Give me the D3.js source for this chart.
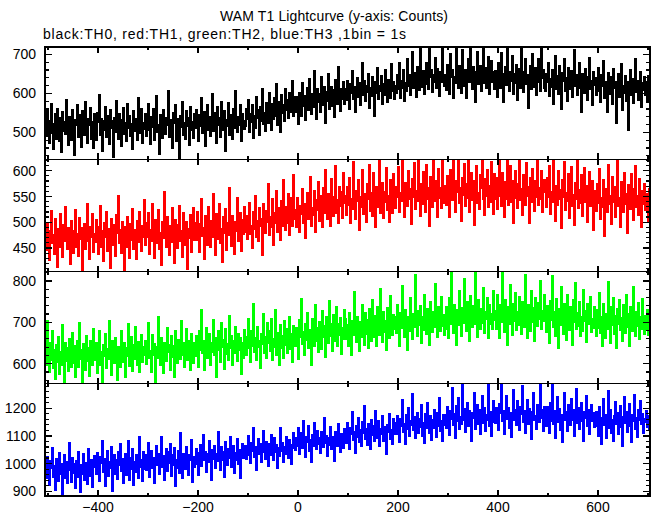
<!DOCTYPE html>
<html><head><meta charset="utf-8">
<script src="https://cdn.jsdelivr.net/npm/d3@7"></script>
<style>body{margin:0;background:#fff}svg{display:block}text{font-family:"Liberation Sans",Arial,Helvetica,sans-serif;fill:#000}</style>
</head><body><svg id="c" width="652" height="515"></svg>
<script>
// time axis: bin start (s) and bin width of the stored series
const binStart = -506, binWidth = 2;
const titleText = "WAM T1 Lightcurve (y-axis: Counts)";
const subtitleText = "black:TH0, red:TH1, green:TH2, blue:TH3 ,1bin = 1s";
const xTicksMajor = [-400, -200, 0, 200, 400, 600];
const xTicksMinor = [-500, -300, -100, 100, 300, 500, 700];

const th0 = [
538,489,556,507,472,531,574,498,455,522,549,483,561,515,476,537,449,552,503,528,
494,583,512,466,541,524,480,559,499,440,533,517,570,486,545,506,462,556,521,492,
579,502,471,536,519,563,481,527,458,547,
511,480,551,525,598,491,535,450,529,506,566,487,521,544,470,558,509,531,437,538,
499,582,520,483,549,514,463,533,563,495,526,477,575,510,542,489,522,455,557,503,
536,518,479,590,498,530,561,471,524,507,
548,489,527,573,505,469,541,513,562,480,530,595,501,520,444,546,510,484,559,528,
495,537,517,607,487,532,506,460,551,522,570,477,535,502,428,543,513,580,492,524,
481,556,516,537,466,565,506,528,485,548,
509,559,527,478,546,515,588,498,533,552,463,525,571,506,540,490,521,599,502,550,
530,472,565,518,537,487,580,522,505,556,452,532,515,576,493,545,524,481,562,511,
606,527,499,541,519,570,476,549,529,508,
516,561,532,584,499,548,526,572,485,543,511,593,536,558,492,567,529,612,520,551,
503,576,539,524,603,553,506,574,533,589,542,626,518,578,557,499,598,548,571,527,
612,557,583,535,601,550,572,634,541,592,
550,592,561,521,603,574,541,627,567,594,530,584,615,557,638,578,545,599,564,659,
585,533,612,577,600,551,642,586,568,617,524,605,579,650,558,593,618,566,609,539,
635,589,572,668,598,555,612,584,629,571,
612,581,634,598,560,624,600,659,584,618,550,606,641,589,627,569,611,680,596,633,
580,619,603,651,562,614,592,642,609,540,629,601,667,584,620,606,646,571,625,596,
660,611,578,635,614,588,676,605,629,585,
620,599,648,611,679,588,633,614,661,580,628,604,690,619,647,596,636,707,613,653,
624,590,668,630,608,714,638,616,659,598,644,678,623,609,719,641,660,603,649,627,
692,613,664,634,593,656,628,735,640,617,
647,608,675,631,598,702,640,660,586,644,625,725,633,612,672,651,599,713,641,619,
662,587,652,690,628,748,642,610,669,632,576,655,706,622,648,671,604,640,731,626,
666,614,647,694,598,637,683,629,655,611,
658,624,589,680,641,612,705,651,577,637,669,620,742,643,606,657,630,697,598,652,
626,675,583,639,663,613,718,635,602,656,688,622,648,562,638,672,609,703,642,616,
666,594,647,690,629,606,721,639,660,614,
606,650,628,679,591,639,615,661,573,633,698,609,645,598,672,624,560,654,631,690,
604,640,579,666,627,611,658,589,637,712,619,648,596,630,680,612,552,651,634,600,
664,622,583,643,692,609,632,568,657,620,
640,594,627,667,605,576,647,617,684,586,629,606,550,654,622,597,643,572,663,612,
631,522,609,651,589,625,676,556,620,600,645,580,629,505,613,662,595,637,574,622,
690,603,633,583,616,655,565,627,607,644,
596,630,578,646,612];

const th1 = [
491,446,500,472,425,484,522,458,476,437,508,469,413,487,451,516,473,432,496,463,
531,479,447,490,456,418,503,470,440,483,524,452,477,434,509,467,489,404,475,498,
448,485,536,462,428,492,471,517,442,478,
460,505,473,437,492,533,452,483,424,499,470,521,444,488,463,411,507,475,456,495,
433,514,478,552,459,486,440,502,471,405,491,452,510,480,430,497,465,527,448,485,
475,427,503,460,520,482,443,493,470,544,
455,500,471,519,438,486,463,537,478,430,506,459,488,524,447,480,416,502,468,560,
490,452,511,474,436,493,460,529,482,421,505,472,449,496,533,462,484,432,518,476,
456,502,408,488,469,515,442,492,528,465,
500,465,521,482,441,497,546,473,489,427,512,480,456,531,493,451,504,471,555,486,
435,516,467,494,537,459,488,422,510,478,526,446,499,475,568,490,454,513,470,438,
502,483,547,463,492,519,444,506,476,530,
481,512,466,499,538,476,493,449,520,487,552,471,503,462,529,491,508,436,537,496,
478,522,499,574,474,510,489,546,456,518,497,562,481,528,502,465,541,492,582,510,
484,530,497,556,475,519,548,491,592,505,
525,490,548,511,481,532,516,566,497,537,468,521,557,506,540,588,492,529,513,561,
480,544,522,579,501,533,551,490,567,518,602,526,505,556,535,491,584,528,511,549,
610,518,543,497,570,530,559,507,596,536,
551,513,569,533,587,497,545,525,617,538,505,562,540,583,484,549,529,603,515,556,
537,500,575,545,612,521,557,511,596,539,490,570,529,553,622,518,548,577,507,560,
538,606,523,551,499,583,541,517,594,554,
527,570,549,608,519,558,540,622,551,510,576,553,531,601,545,565,496,584,548,616,
524,561,541,622,552,512,574,535,598,557,520,612,545,567,491,588,551,529,619,562,
541,580,509,605,547,568,526,622,555,536,
572,533,591,555,509,603,563,543,622,550,520,581,558,622,537,567,501,587,552,614,
530,574,546,622,519,561,596,543,580,493,564,609,536,557,525,592,565,622,545,514,
584,551,603,529,571,539,618,557,516,595,
545,587,524,568,622,550,531,597,558,509,578,544,622,533,562,609,539,581,498,557,
601,546,527,574,622,542,565,514,593,553,532,615,550,570,497,586,538,605,559,521,
580,548,622,532,567,544,600,519,557,583,
566,528,586,549,610,516,559,539,622,551,502,572,533,601,544,563,488,582,548,617,
523,557,540,594,507,567,607,531,553,494,577,545,619,526,564,537,592,512,555,606,
539,571,499,560,598,530,549,580,485,562,
558,521,575,537,604,505,548,528,582,473,543,566,520,612,534,552,496,589,539,570,
510,559,622,530,547,489,578,542,519,597,535,556,478,573,545,524,594,540,503,565,
610,528,551,514,585,544,490,562,534,574,
522,556,540,501,565];

const th2 = [
640,596,705,626,578,652,607,680,588,634,561,645,603,665,574,629,597,694,614,551,
650,605,638,582,661,621,590,676,600,643,566,627,657,592,700,610,633,553,648,623,
585,669,606,639,569,655,615,596,684,631,
608,652,576,635,681,596,629,551,647,618,673,589,637,610,705,621,572,656,627,600,
663,614,560,642,624,590,679,631,604,650,567,638,617,697,594,630,666,582,645,611,
690,627,596,654,578,635,671,602,641,619,
655,598,640,699,613,631,580,671,621,648,553,641,614,713,634,596,664,625,576,652,
636,606,688,627,647,585,669,616,643,568,679,630,600,659,637,610,705,621,650,590,
640,684,608,657,626,583,674,633,601,651,
617,668,644,591,680,632,731,625,656,584,649,687,612,641,672,597,652,628,706,620,
663,566,644,679,633,603,700,639,658,586,685,623,649,609,716,637,667,595,655,626,
690,643,605,674,631,664,575,650,614,682,
666,620,657,710,636,602,680,643,745,628,664,608,689,639,656,588,673,646,722,624,
665,613,699,648,680,630,708,609,661,640,731,619,676,651,596,694,637,669,614,705,
645,684,626,659,714,634,672,602,692,653,
641,688,656,611,707,663,758,646,677,620,697,657,724,637,683,661,597,709,668,643,
744,655,687,628,702,670,634,729,663,692,616,713,674,648,752,666,697,630,719,678,
655,738,641,698,668,712,623,688,658,731,
708,658,694,641,724,675,620,705,669,775,691,651,713,679,629,701,664,742,687,645,
724,671,706,636,733,684,655,755,694,664,716,643,739,688,668,782,699,652,727,676,
705,632,736,691,660,764,700,669,718,684,
714,673,742,694,643,723,685,790,701,664,732,690,632,714,679,760,697,658,722,687,
816,702,667,728,692,741,650,715,681,768,700,670,733,695,644,750,705,676,725,688,
793,697,663,737,707,679,762,690,719,668,
684,737,706,661,759,696,823,716,673,742,702,645,731,692,777,709,667,736,697,805,
717,678,750,703,655,765,720,688,740,694,823,711,664,755,715,682,733,698,784,674,
725,706,760,662,742,695,720,683,778,704,
728,683,766,710,661,742,700,823,719,676,756,706,645,739,696,792,714,669,746,703,
772,681,727,693,762,721,672,751,708,688,815,729,662,743,711,679,777,701,736,654,
759,716,690,748,707,801,683,729,703,767,
716,676,740,696,650,753,705,814,687,726,665,758,701,636,734,692,787,710,671,746,
697,656,768,706,680,737,716,645,755,699,796,682,723,690,750,667,713,678,779,703,
729,652,745,694,714,763,676,708,686,738,
709,667,732,686,772,674,714,641,745,694,660,722,683,798,700,649,739,692,760,671,
716,636,733,695,754,680,711,655,743,701,674,766,689,720,643,737,697,677,786,709,
666,725,691,747,659,713,684,758,699,672,
716,680,732,668,701];

const th3 = [
1000,945,1025,969,922,1010,981,1058,951,993,905,1018,974,936,1039,962,1001,886,989,1032,
948,1007,928,977,1075,986,933,1021,966,999,912,1012,950,1045,981,897,995,960,1036,941,
1005,971,924,1056,989,955,1016,915,985,1028,
1012,961,1040,987,936,1025,1001,1085,969,1017,917,995,1048,953,1009,982,1060,899,998,1031,
962,1013,942,1044,992,1071,973,1019,928,1004,1036,956,990,1082,940,1022,979,1054,920,1008,
967,1034,996,948,1098,988,1015,934,1042,978,
1034,977,1017,1075,950,1002,1048,983,1023,928,1013,1065,993,1036,962,1009,1096,985,1028,940,
1019,1054,973,1043,1000,1074,955,1031,992,1057,917,1014,983,1047,964,1112,1005,947,1037,1020,
978,1062,997,958,1032,1010,1087,932,1025,988,
999,1053,1018,958,1041,1069,990,1029,1104,1010,1045,969,1035,1004,1083,1021,941,1052,1016,1066,
984,1037,1007,1116,1028,974,1060,1013,1043,951,1078,1024,995,1054,1018,1098,985,1031,1065,963,
1039,1011,1089,998,1049,945,1028,1073,1020,1057,
1065,1016,1052,1101,1031,1000,1076,1044,1132,1023,1062,977,1048,1090,1035,1071,1005,1055,1118,1039,
1017,1081,1049,990,1073,1028,1106,1057,1012,1094,1041,1068,982,1059,1026,1129,1046,1077,1004,1063,
1035,1097,1051,1019,1087,1043,996,1070,1111,1055,
1048,1093,1062,1130,1033,1078,1111,1056,1156,1069,1022,1098,1075,1139,1044,1086,1005,1104,1064,1148,
1081,1050,1121,1095,1071,1036,1114,1087,1058,1166,1073,1102,1027,1093,1065,1134,1052,1097,1078,1008,
1117,1085,1063,1144,1070,1040,1107,1089,1055,1126,
1121,1074,1150,1093,1051,1132,1104,1187,1085,1115,1037,1136,1096,1167,1078,1123,1061,1153,1108,1210,
1087,1128,1066,1145,1111,1050,1160,1101,1138,1080,1193,1118,1092,1155,1062,1125,1105,1174,1079,1133,
1098,1034,1142,1114,1181,1088,1122,1070,1163,1107,
1150,1104,1172,1122,1078,1163,1135,1231,1114,1146,1068,1178,1125,1202,1098,1155,1138,1252,1119,1169,
1091,1152,1184,1111,1164,1131,1212,1100,1148,1072,1180,1128,1221,1140,1108,1173,1083,1158,1126,1197,
1143,1095,1186,1133,1238,1116,1154,1079,1176,1137,
1176,1128,1205,1149,1103,1190,1161,1276,1137,1181,1090,1210,1153,1240,1123,1171,1143,1287,1157,1198,
1112,1177,1222,1133,1193,1150,1081,1184,1164,1258,1122,1171,1215,1140,1194,1107,1160,1246,1146,1203,
1116,1178,1155,1284,1136,1187,1097,1167,1228,1149,
1145,1202,1166,1119,1218,1180,1287,1153,1193,1106,1174,1245,1159,1203,1128,1184,1096,1170,1266,1156,
1195,1137,1226,1167,1120,1207,1177,1283,1150,1190,1110,1176,1233,1141,1199,1161,1088,1187,1255,1155,
1172,1125,1215,1181,1148,1287,1164,1195,1115,1206,
1182,1133,1207,1162,1110,1222,1152,1287,1143,1191,1092,1171,1243,1148,1200,1121,1179,1076,1165,1256,
1156,1188,1115,1212,1169,1137,1235,1158,1194,1100,1178,1270,1146,1203,1125,1173,1221,1154,1082,1187,
1163,1246,1135,1197,1107,1176,1214,1151,1184,1130,
1133,1188,1152,1099,1205,1168,1068,1146,1234,1137,1178,1092,1161,1263,1128,1194,1108,1158,1080,1173,
1223,1141,1183,1104,1163,1211,1131,1062,1170,1244,1145,1189,1114,1159,1216,1135,1075,1178,1151,1251,
1123,1167,1095,1196,1155,1229,1140,1180,1111,1164,
1148,1192,1132,1174,1120];

const panels = [
  {values: th0, color: "#000000", domain: [431, 719], major: [500, 600, 700], minorStep: 20},
  {values: th1, color: "#ff0000", domain: [404.4, 622.2], major: [450, 500, 550, 600], minorStep: 10},
  {values: th2, color: "#00ff00", domain: [551.5, 823], major: [600, 700, 800], minorStep: 20},
  {values: th3, color: "#0000ff", domain: [883, 1288.7], major: [900, 1000, 1100, 1200], minorStep: 20}
];

const svg = d3.select("#c");
const L = 45, R = 650, top0 = 47, bottom = 496;
const ph = (bottom - top0) / panels.length;
const x = d3.scaleLinear().domain([-506, 704]).range([L, R]);
const fmt = d3.format("");

svg.append("text").attr("x", 220).attr("y", 21).attr("font-size", 14)
  .attr("textLength", 228).attr("lengthAdjust", "spacing").text(titleText);
svg.append("text").attr("x", 43).attr("y", 38.5).attr("font-size", 14)
  .attr("textLength", 363).attr("lengthAdjust", "spacing").text(subtitleText);

panels.forEach((p, i) => {
  const y0 = top0 + i * ph, y1 = y0 + ph;
  const y = d3.scaleLinear().domain(p.domain).range([y1, y0]);
  const g = svg.append("g");
  const cid = "clip" + i;
  svg.append("clipPath").attr("id", cid).append("rect")
    .attr("x", L).attr("y", y0).attr("width", R - L).attr("height", ph);
  const pts = p.values.map((v, k) => [binStart + k * binWidth, v]);
  pts.push([binStart + p.values.length * binWidth, p.values[p.values.length - 1]]);
  const line = d3.line().x(d => x(d[0])).y(d => y(d[1])).curve(d3.curveStepAfter);
  g.append("path").attr("clip-path", `url(#${cid})`).attr("d", line(pts))
    .attr("fill", "none").attr("stroke", p.color).attr("stroke-width", 1.2)
    .attr("shape-rendering", "crispEdges");

  const tk = svg.append("g").attr("stroke", "#000").attr("stroke-width", 1.2).attr("shape-rendering", "crispEdges");
  const minors = d3.range(Math.ceil(p.domain[0] / p.minorStep) * p.minorStep, p.domain[1], p.minorStep)
    .filter(v => !p.major.includes(v));
  const yt = (v, len) => {
    tk.append("line").attr("x1", L).attr("x2", L + len).attr("y1", y(v)).attr("y2", y(v));
    tk.append("line").attr("x1", R).attr("x2", R - len).attr("y1", y(v)).attr("y2", y(v));
  };
  p.major.forEach(v => yt(v, 7));
  minors.forEach(v => yt(v, 4));
  const xt = (v, len) => {
    tk.append("line").attr("x1", x(v)).attr("x2", x(v)).attr("y1", y0).attr("y2", y0 + len);
    tk.append("line").attr("x1", x(v)).attr("x2", x(v)).attr("y1", y1).attr("y2", y1 - len);
  };
  xTicksMajor.forEach(v => xt(v, 6));
  xTicksMinor.forEach(v => xt(v, 3));
  svg.append("rect").attr("x", L).attr("y", y0).attr("width", R - L).attr("height", ph)
    .attr("fill", "none").attr("stroke", "#000").attr("stroke-width", 1.2)
    .attr("shape-rendering", "crispEdges");
  p.major.forEach(v => {
    svg.append("text").attr("x", 36).attr("y", y(v)).attr("dy", "0.36em")
      .attr("text-anchor", "end").attr("font-size", 14).text(fmt(v));
  });
});

xTicksMajor.forEach(v => {
  svg.append("text").attr("x", x(v)).attr("y", 512).attr("text-anchor", "middle")
    .attr("font-size", 14).text(d3.format("")(v));
});
</script></body></html>
